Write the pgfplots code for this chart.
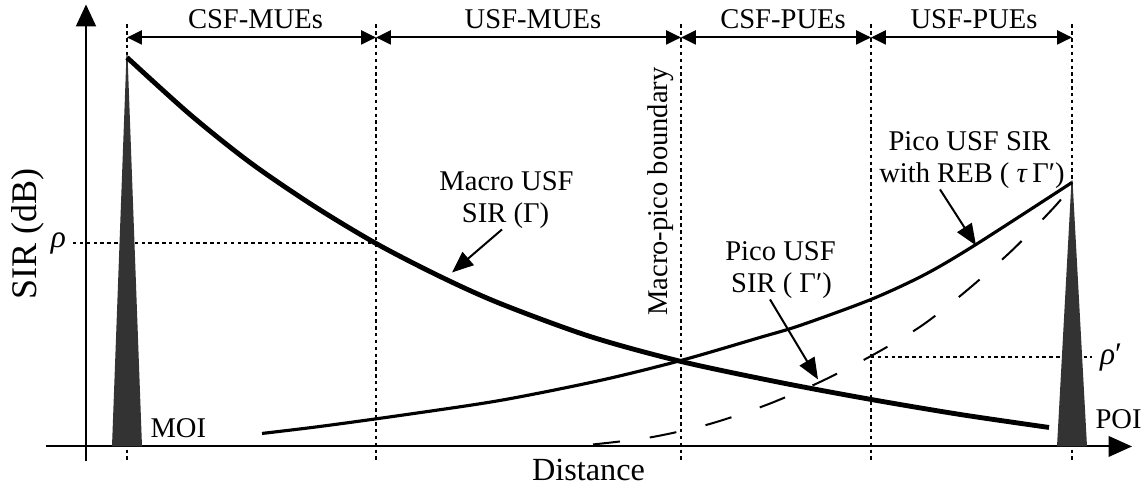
\documentclass[border=0pt]{standalone}
\usepackage{fontspec}
\setmainfont{Liberation Serif}
\usepackage{pgfplots}
\pgfplotsset{compat=1.18}
\usetikzlibrary{arrows.meta}
\definecolor{peak}{HTML}{333333}
\begin{document}
\begin{tikzpicture}[font=\fontsize{10}{12}\selectfont]
\begin{axis}[
  width=401.1pt, height=169.4pt, scale only axis,
  xmin=0, xmax=1146, ymin=0, ymax=484, y dir=reverse,
  hide axis, clip=false,
]
\path (axis cs:0,0) rectangle (axis cs:1146,484);
\pgfplotsset{dotline/.style={black, line width=0.7pt, dash pattern=on 1.2pt off 1.2pt}}
% dotted vertical boundaries
\addplot[dotline] coordinates {(127,22) (127,458)};
\addplot[dotline] coordinates {(376,22) (376,458)};
\addplot[dotline] coordinates {(681,22) (681,458)};
\addplot[dotline] coordinates {(871,22) (871,458)};
\addplot[dotline] coordinates {(1072,22) (1072,458)};
% rho lines
\addplot[dotline] coordinates {(73,241) (376,241)};
\addplot[dotline] coordinates {(871,355) (1092,355)};
% axes
\addplot[black, line width=0.7pt, -{Triangle[length=7.7pt,width=7pt]}] coordinates {(86,459) (86,2)};
\addplot[black, line width=0.7pt, -{Triangle[length=8.2pt,width=7.2pt]}] coordinates {(46,444) (1132,444)};
% peaks
\addplot[fill=peak, draw=none] coordinates {(112,444) (126.5,52) (127.5,52) (142,444)} -- cycle;
\addplot[fill=peak, draw=none] coordinates {(1057,444) (1071.5,178) (1072.5,178) (1087,444)} -- cycle;
% region arrows
\addplot[black, line width=0.7pt, {Triangle[length=5.2pt,width=4.9pt]}-{Triangle[length=5.2pt,width=4.9pt]}] coordinates {(127,35) (376,35)};
\addplot[black, line width=0.7pt, {Triangle[length=5.2pt,width=4.9pt]}-{Triangle[length=5.2pt,width=4.9pt]}] coordinates {(376,35) (681,35)};
\addplot[black, line width=0.7pt, {Triangle[length=5.2pt,width=4.9pt]}-{Triangle[length=5.2pt,width=4.9pt]}] coordinates {(681,35) (871,35)};
\addplot[black, line width=0.7pt, {Triangle[length=5.2pt,width=4.9pt]}-{Triangle[length=5.2pt,width=4.9pt]}] coordinates {(871,35) (1072,35)};
% Macro USF SIR
\addplot[black, line width=1.7pt, smooth] coordinates {(127,55) (190,112) (250,160) (313,203) (376,241) (440,274) (500,301) (590,334) (681,359) (780,380) (871,397) (960,412) (1049,425)};
% Pico USF SIR with REB
\addplot[black, line width=1.1pt, smooth] coordinates {(262,431) (320,424) (400,413) (500,398) (600,378) (681,358) (760,335) (800,323) (871,297) (925,272) (976,242) (1072,180)};
% Pico USF SIR (dashed)
\addplot[black, line width=0.7pt, smooth, dash pattern=on 9.5pt off 10.5pt] coordinates {(593,442) (650,435) (708,422) (765,403) (819,380) (872,353) (922,323) (968,287) (1013,247) (1053,206) (1070,186)};
% label arrows
\addplot[black, line width=0.7pt, -{Triangle[length=7.5pt,width=6pt]}] coordinates {(502,227) (452,270)};
\addplot[black, line width=0.7pt, -{Triangle[length=7.5pt,width=6pt]}] coordinates {(770,297) (818,377)};
\addplot[black, line width=0.7pt, -{Triangle[length=7.5pt,width=6pt]}] coordinates {(940,187) (976,243)};
% texts
\node[anchor=base] at (axis cs:255.5,26) {CSF-MUEs};
\node[anchor=base] at (axis cs:533,26) {USF-MUEs};
\node[anchor=base] at (axis cs:783,26) {CSF-PUEs};
\node[anchor=base] at (axis cs:974,26) {USF-PUEs};
\node[anchor=base] at (axis cs:506.5,188) {Macro USF};
\node[anchor=base] at (axis cs:505.5,220) {SIR (Γ)};
\node[anchor=base] at (axis cs:780.5,258) {Pico USF};
\node[anchor=base] at (axis cs:781.5,290) {SIR ( Γ′)};
\node[anchor=base] at (axis cs:969.5,148) {Pico USF SIR};
\node[anchor=base] at (axis cs:972,180) {with REB ( \textit{τ}\,Γ′)};
\node[rotate=90] at (axis cs:661,189) {Macro-pico boundary};
\node[rotate=90, font=\fontsize{12.6}{14}\selectfont] at (axis cs:28,232) {SIR (dB)};
\node[anchor=base, font=\fontsize{11.3}{13}\selectfont] at (axis cs:588.5,478) {Distance};
\node[anchor=base west, inner xsep=0pt] at (axis cs:150,435) {MOI};
\node[anchor=base west, inner xsep=0pt] at (axis cs:1095,426) {POI};
\node[font=\fontsize{11}{13}\selectfont] at (axis cs:58.5,241) {\textit{ρ}};
\node[font=\fontsize{11}{13}\selectfont] at (axis cs:1111,355) {\textit{ρ}′};
\end{axis}
\end{tikzpicture}
\end{document}
